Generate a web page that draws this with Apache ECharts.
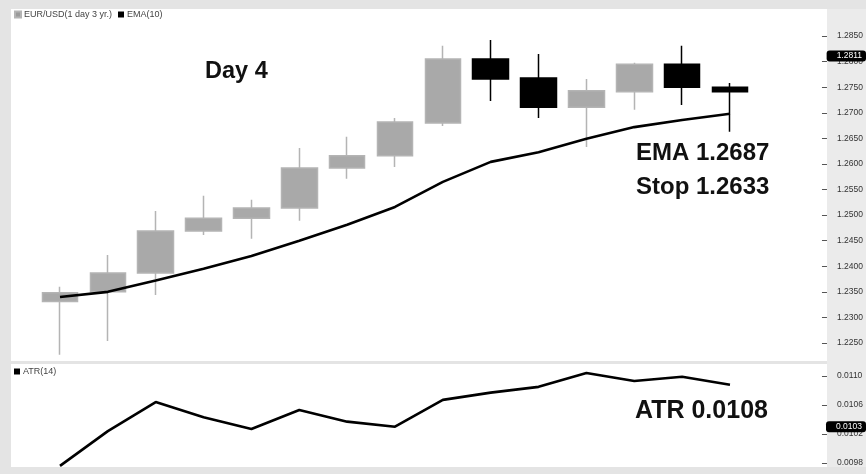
<!DOCTYPE html>
<html><head><meta charset="utf-8">
<script src="https://cdn.jsdelivr.net/npm/echarts@6/dist/echarts.min.js"></script>
<style>html,body{margin:0;padding:0;background:#e4e4e4}#c{width:866px;height:474px}</style>
</head><body><div id="c"></div><script>
const categories = ['1','2','3','4','5','6','7','8','9','10','11','12','13','14','15',''];
const openP  = [1.2331,1.2350,1.2387,1.2469,1.2494,1.2514,1.2592,1.2616,1.2680,1.2805,1.2768,1.2711,1.2741,1.2795,1.2750];
const closeP = [1.2348,1.2387,1.2469,1.2494,1.2514,1.2592,1.2616,1.2682,1.2805,1.2766,1.2711,1.2743,1.2795,1.2750,1.2741];
const lowP   = [1.2227,1.2254,1.2344,1.2461,1.2454,1.2489,1.2571,1.2594,1.2674,1.2723,1.2690,1.2633,1.2706,1.2715,1.2663];
const highP  = [1.2360,1.2422,1.2508,1.2538,1.2530,1.2631,1.2653,1.2690,1.2831,1.2842,1.2815,1.2766,1.2798,1.2831,1.2758];
const ema10  = [1.2340,1.2350,1.2372,1.2395,1.2420,1.2450,1.2481,1.2516,1.2565,1.2604,1.2623,1.2649,1.2672,1.2686,1.2698];
const atr14  = [0.00976,0.01024,0.01064,0.01043,0.01027,0.01053,0.01037,0.01030,0.01067,0.01077,0.01085,0.01104,0.01093,0.01099,0.01088];
const priceAxisTicks = {min:1.2250, max:1.28995, interval:0.005};
const atrAxisTicks = {min:0.0098, max:0.01115, interval:0.0004};
const lastPriceTag = 1.2811;
const lastAtrTag = 0.0103;
const notes = {day:'Day 4', ema:'EMA 1.2687', stop:'Stop 1.2633', atr:'ATR 0.0108'};

const candleData = openP.map((o,i)=>[o, closeP[i], lowP[i], highP[i]]);
const FONT = '"Liberation Sans", Arial, sans-serif';
const chart = echarts.init(document.getElementById('c'), null, {renderer:'canvas'});

const gridLeft = 36.07, gridWidth = 765.7;
function yAxisCfg(gi, t, tag){
  return {
    type:'value', gridIndex:gi, position:'right', offset:25.2,
    min:t.min, max:t.max, interval:t.interval, scale:true,
    axisLine:{show:false},
    axisTick:{show:true, inside:true, length:5, lineStyle:{color:'#555', width:1}},
    splitLine:{show:false},
    axisLabel:{show:true, margin:10, fontSize:8.5, fontFamily:FONT, color:'#333',
      showMaxLabel:false, formatter:v=>v.toFixed(4)},
    axisPointer:{show:true, value:tag, status:'show', triggerTooltip:false, snap:false,
      lineStyle:{opacity:0, width:0},
      label:{show:true, backgroundColor:'#000', color:'#fff', fontSize:8.5, fontFamily:FONT,
        padding:[1,4,1,10], margin:0, formatter:p=>Number(p.value).toFixed(4)}}
  };
}

chart.setOption({
  animation:false,
  backgroundColor:'#e4e4e4',
  graphic:[
    {type:'rect', z:-10, shape:{x:11,y:9,width:816,height:352}, style:{fill:'#ffffff'}},
    {type:'rect', z:-10, shape:{x:11,y:364,width:816,height:103}, style:{fill:'#ffffff'}},
    {type:'rect', z:-10, shape:{x:827,y:9,width:39,height:458}, style:{fill:'#ebebeb'}},
    {type:'text', left:205, top:60, style:{text:notes.day, font:'bold 23.5px '+FONT, fill:'#111'}},
    {type:'text', left:636, top:141, style:{text:notes.ema, font:'bold 24px '+FONT, fill:'#111'}},
    {type:'text', left:636, top:175, style:{text:notes.stop, font:'bold 24px '+FONT, fill:'#111'}},
    {type:'text', left:635, top:399, style:{text:notes.atr, font:'bold 25px '+FONT, fill:'#111'}}
  ],
  legend:[
    {left:14, top:10, itemWidth:6, itemHeight:6, itemGap:6, icon:'rect', padding:0,
     textStyle:{fontSize:9, fontFamily:FONT, color:'#444', padding:[0,0,0,-2]},
     data:[{name:'EUR/USD(1 day 3 yr.)', itemStyle:{color:'#9a9a9a'}}, {name:'EMA(10)', itemStyle:{color:'#000'}}]},
    {left:14, top:367, itemWidth:6, itemHeight:6, icon:'rect', padding:0,
     textStyle:{fontSize:9, fontFamily:FONT, color:'#444', padding:[0,0,0,-2]},
     data:[{name:'ATR(14)', itemStyle:{color:'#000'}}]}
  ],
  grid:[
    {left:gridLeft, width:gridWidth, top:10.7, height:332.3},
    {left:gridLeft, width:gridWidth, top:365.1, height:97.9}
  ],
  xAxis:[
    {type:'category', gridIndex:0, data:categories, boundaryGap:true, show:false},
    {type:'category', gridIndex:1, data:categories, boundaryGap:true, show:false}
  ],
  yAxis:[ yAxisCfg(0, priceAxisTicks, lastPriceTag), yAxisCfg(1, atrAxisTicks, lastAtrTag) ],
  series:[
    {name:'EUR/USD(1 day 3 yr.)', type:'candlestick', xAxisIndex:0, yAxisIndex:0, clip:false,
     barWidth:36, data:candleData,
     itemStyle:{color:'#a9a9a9', borderColor:'#b4b4b4', color0:'#000000', borderColor0:'#000000', borderWidth:1.5}},
    {name:'EMA(10)', type:'line', xAxisIndex:0, yAxisIndex:0, data:ema10, symbol:'none', clip:false,
     lineStyle:{color:'#000', width:2.6}, itemStyle:{color:'#000'}, z:5},
    {name:'ATR(14)', type:'line', xAxisIndex:1, yAxisIndex:1, data:atr14, symbol:'none', clip:false,
     lineStyle:{color:'#000', width:2.6}, itemStyle:{color:'#000'}}
  ]
});
</script></body></html>
